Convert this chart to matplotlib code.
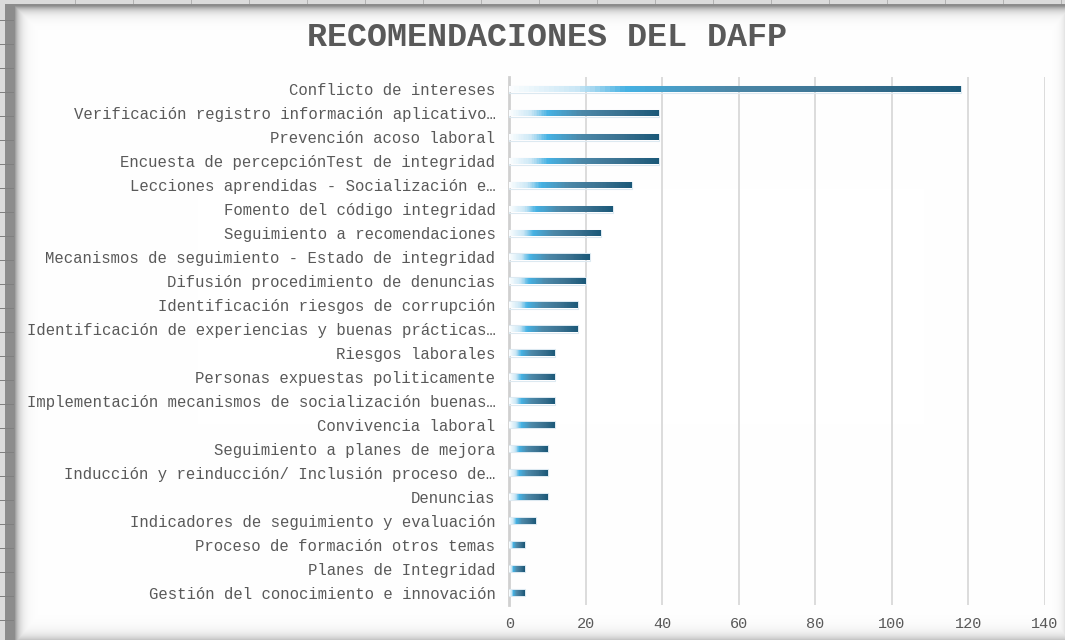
import matplotlib
matplotlib.use("Agg")
import matplotlib.pyplot as plt
import numpy as np
from matplotlib.colors import LinearSegmentedColormap

# datos
CATEGORIAS = [
    "Conflicto de intereses",
    "Verificación registro información aplicativo…",
    "Prevención acoso laboral",
    "Encuesta de percepciónTest de integridad",
    "Lecciones aprendidas - Socialización e…",
    "Fomento del código integridad",
    "Seguimiento a recomendaciones",
    "Mecanismos de seguimiento - Estado de integridad",
    "Difusión procedimiento de denuncias",
    "Identificación riesgos de corrupción",
    "Identificación de experiencias y buenas prácticas…",
    "Riesgos laborales",
    "Personas expuestas politicamente",
    "Implementación mecanismos de socialización buenas…",
    "Convivencia laboral",
    "Seguimiento a planes de mejora",
    "Inducción y reinducción/ Inclusión proceso de…",
    "Denuncias",
    "Indicadores de seguimiento y evaluación",
    "Proceso de formación otros temas",
    "Planes de Integridad",
    "Gestión del conocimiento e innovación",
]
VALORES = [118, 39, 39, 39, 32, 27, 24, 21, 20, 18, 18,
           12, 12, 12, 12, 10, 10, 10, 7, 4, 4, 4]
XTICKS = [0, 20, 40, 60, 80, 100, 120, 140]

FUENTE = ["Liberation Mono", "DejaVu Sans Mono"]
GRIS_TEXTO = "#595959"
GRIS_GRID = "#d9d9d9"

degradado = LinearSegmentedColormap.from_list(
    "dafp", [(0.0, "#fbfdfe"), (0.15, "#c9e6f5"), (0.26, "#45b1e3"),
             (0.48, "#4c88a8"), (0.75, "#3a7190"), (1.0, "#1a5878")])

fig = plt.figure(figsize=(10.65, 6.4), dpi=100)
fig.patch.set_facecolor("white")

# sombra interior del marco (estilo captura de Excel)
W, H = 1065, 640
xx, yy = np.meshgrid(np.arange(W), np.arange(H))
sombra = np.zeros((H, W))
sombra = np.maximum(sombra, 0.45 * np.exp(-np.clip(xx - 14, 0, None) / 5.0))
sombra = np.maximum(sombra, 0.40 * np.exp(-np.clip(yy - 6, 0, None) / 5.0))
sombra = np.maximum(sombra, 0.22 * np.exp(-np.clip(H - 1 - yy, 0, None) / 6.0))
sombra = np.maximum(sombra, 0.10 * np.exp(-np.clip(W - 1 - xx, 0, None) / 4.0))
gris = 1 - sombra
gris[:, 5:14] = np.minimum(gris[:, 5:14], 0.6)
gris[:, :5] = 0.86
gris[:4, :] = 0.86
gris[4:6, 5:] = 0.55
for yl in range(20, H, 24):
    gris[yl, :14] = 0.5
for xl in range(75, W, 58):
    gris[:4, xl] = 0.7
fondo = fig.add_axes([0, 0, 1, 1], zorder=-5)
fondo.imshow(np.dstack([gris] * 3), aspect="auto", interpolation="nearest")
fondo.axis("off")

ax = fig.add_axes([0.4782, 0.0552, 0.9812 - 0.4782, 0.8792 - 0.0552])
ax.patch.set_alpha(0)

y = np.arange(len(CATEGORIAS))
valores = np.array(VALORES, dtype=float)
ALTO = 0.26

# contorno suave de cada barra
ax.barh(y, valores, height=ALTO + 0.04, facecolor="none",
        edgecolor="#dce9f1", linewidth=0.8, zorder=3)

# relleno degradado: cada barra se divide en tramos proporcionales a su valor
N = 90
for i in range(N):
    ax.barh(y, valores / N * 1.02, left=valores * i / N, height=ALTO,
            color=degradado((i + 0.5) / N), linewidth=0,
            antialiased=False, zorder=4)

ax.set_xlim(0, 140)
ax.set_ylim(len(CATEGORIAS) - 0.5, -0.5)
ax.set_xticks(XTICKS)
ax.set_yticks(y)
ax.set_yticklabels(CATEGORIAS)
ax.xaxis.grid(True, color=GRIS_GRID, linewidth=1.3, zorder=0)
ax.set_axisbelow(True)

for s in ["top", "right", "bottom"]:
    ax.spines[s].set_visible(False)
ax.spines["left"].set_color("#d0d0d0")
ax.spines["left"].set_linewidth(2)

ax.tick_params(axis="y", length=0, pad=10, labelsize=11.25, labelcolor=GRIS_TEXTO)
ax.tick_params(axis="x", length=0, pad=9, labelsize=11, labelcolor=GRIS_TEXTO)
for t in ax.get_yticklabels() + ax.get_xticklabels():
    t.set_family(FUENTE)

fig.text(547 / W, 1 - 38 / H, "RECOMENDACIONES DEL DAFP", ha="center", va="center",
         fontsize=24, fontweight="bold", color=GRIS_TEXTO, family=FUENTE)

fig.savefig("out.png", dpi=100)
